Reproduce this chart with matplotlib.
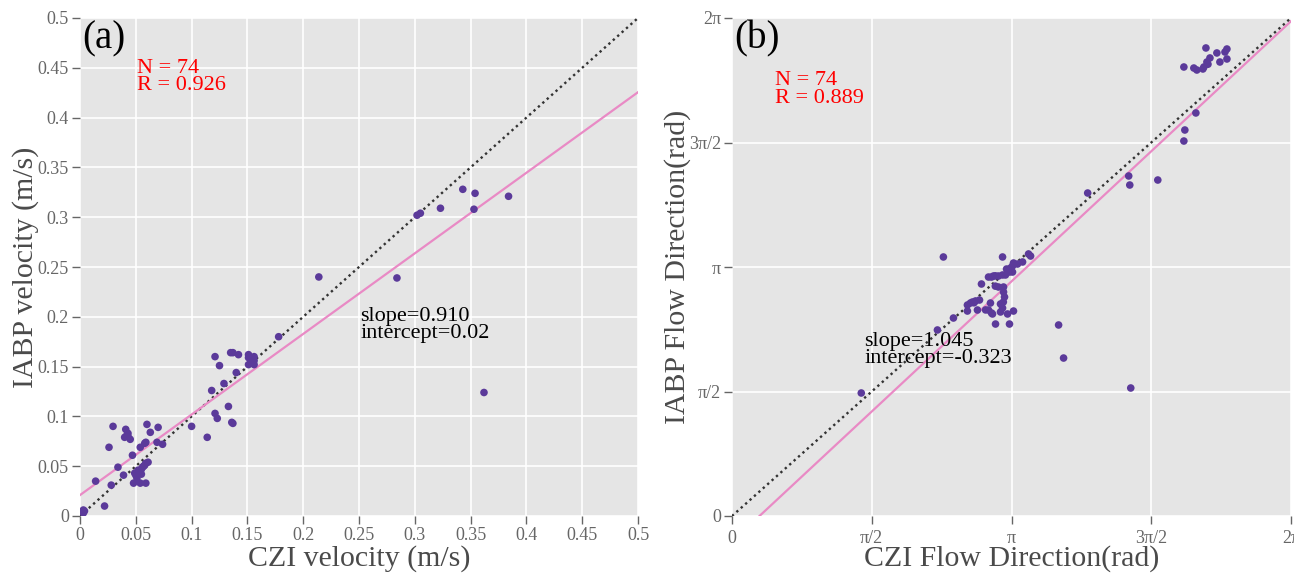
import numpy as np
import matplotlib
matplotlib.use("Agg")
import matplotlib.pyplot as plt

# ---------------- data: panel (a) velocity ----------------
czi_vel = [0.0296, 0.041, 0.043, 0.040, 0.045, 0.042, 0.060, 0.063, 0.070, 0.026,
           0.054, 0.058, 0.059, 0.069, 0.074, 0.047, 0.061, 0.059, 0.056, 0.034,
           0.050, 0.052, 0.054, 0.049, 0.055, 0.039, 0.014, 0.048, 0.054, 0.059,
           0.028, 0.022, 0.004, 0.003,
           0.121, 0.135, 0.137, 0.142, 0.151, 0.151, 0.156, 0.156, 0.151, 0.156,
           0.125, 0.140, 0.129, 0.118, 0.133, 0.121, 0.123, 0.136, 0.137, 0.100,
           0.114,
           0.214, 0.284, 0.302, 0.305, 0.323, 0.343, 0.354, 0.353, 0.384, 0.362,
           0.178,
           0.052, 0.055, 0.051, 0.057, 0.153, 0.043, 0.058, 0.003]
iabp_vel = [0.090, 0.087, 0.083, 0.079, 0.077, 0.081, 0.092, 0.084, 0.089, 0.069,
            0.069, 0.073, 0.074, 0.074, 0.072, 0.061, 0.054, 0.053, 0.049, 0.049,
            0.041, 0.043, 0.045, 0.043, 0.042, 0.041, 0.035, 0.033, 0.033, 0.033,
            0.031, 0.010, 0.005, 0.003,
            0.160, 0.164, 0.164, 0.162, 0.162, 0.159, 0.160, 0.156, 0.152, 0.152,
            0.151, 0.144, 0.133, 0.126, 0.110, 0.103, 0.098, 0.094, 0.093, 0.090,
            0.079,
            0.240, 0.239, 0.302, 0.304, 0.309, 0.328, 0.324, 0.308, 0.321, 0.124,
            0.180,
            0.046, 0.047, 0.038, 0.050, 0.157, 0.080, 0.051, 0.006]
fit_a = (0.809, 0.021)          # drawn line: slope, intercept
label_a = ("N = 74\nR = 0.926", "slope=0.910\nintercept=0.02")

# ---------------- data: panel (b) flow direction (rad) ----------------
czi_dir = [2.376, 3.041, 3.333, 3.356, 3.266, 3.164, 3.209, 3.153, 3.131, 3.086,
           3.119, 3.153, 3.041, 3.074, 2.995, 2.939, 2.883, 2.917, 2.804, 2.995,
           3.052, 3.052, 3.063, 2.782, 2.737, 2.680, 2.703, 2.646, 2.905, 3.018,
           3.041, 2.646, 2.759, 2.883, 2.917, 2.928, 3.018, 3.097, 3.164, 2.489,
           2.962, 3.119, 2.309,
           3.671, 3.727, 1.453, 4.482,
           5.327, 5.450, 5.563, 5.541, 5.563, 5.484, 5.372, 5.338, 5.304, 5.293,
           5.225, 5.191, 5.079, 5.214, 5.090, 5.079, 4.459, 4.471, 4.786, 3.998,
           3.10, 2.96, 2.72, 2.96, 5.35, 3.05, 2.85]
iabp_dir = [3.268, 3.268, 3.306, 3.280, 3.205, 3.192, 3.179, 3.154, 3.129, 3.116,
            3.078, 3.078, 3.041, 3.041, 3.028, 3.028, 3.015, 3.015, 2.927, 2.889,
            2.889, 2.826, 2.763, 2.725, 2.713, 2.687, 2.700, 2.662, 2.687, 2.675,
            2.624, 2.586, 2.599, 2.599, 2.561, 2.549, 2.574, 2.549, 2.586, 2.498,
            2.422, 2.422, 2.347,
            2.410, 1.993, 1.552, 1.615,
            5.905, 5.842, 5.892, 5.854, 5.766, 5.728, 5.779, 5.728, 5.665, 5.640,
            5.627, 5.652, 5.665, 5.085, 4.870, 4.731, 4.290, 4.176, 4.239, 4.075,
            3.10, 2.90, 2.69, 3.03, 5.70, 2.70, 2.60]
fit_b = (1.045, -0.323)
label_b = ("N = 74\nR = 0.889", "slope=1.045\nintercept=-0.323")

vel_ticks = [0, 0.05, 0.1, 0.15, 0.2, 0.25, 0.3, 0.35, 0.4, 0.45, 0.5]
vel_ticklabels = ["0", "0.05", "0.1", "0.15", "0.2", "0.25", "0.3", "0.35", "0.4", "0.45", "0.5"]
dir_ticks = [0, np.pi / 2, np.pi, 3 * np.pi / 2, 2 * np.pi]
dir_ticklabels = ["0", "π/2", "π", "3π/2", "2π"]

# ---------------- style ----------------
plt.rcParams["font.family"] = ["Liberation Serif", "DejaVu Serif"]
BG = "#E5E5E5"
PT = "#5B3A9A"
PINK = "#E98AC5"
TICKC = "#666666"
LABC = "#4A4A4A"

fig = plt.figure(figsize=(12.94, 5.78), dpi=100)
ax1 = fig.add_axes([80 / 1294, 62 / 578, 558 / 1294, 498 / 578])
ax2 = fig.add_axes([732 / 1294, 62 / 578, 559 / 1294, 498 / 578])


def style(ax):
    ax.set_facecolor(BG)
    for s in ax.spines.values():
        s.set_visible(False)
    ax.grid(True, color="white", linewidth=1.2)
    ax.set_axisbelow(True)
    ax.tick_params(direction="out", length=6, width=1, color=TICKC,
                   labelcolor=TICKC, labelsize=13, pad=2)


# panel (a)
style(ax1)
lim_a = (0, 0.5)
ax1.set_xlim(lim_a)
ax1.set_ylim(lim_a)
ax1.plot(lim_a, lim_a, linestyle=(0, (1, 1.5)), color="#333333", linewidth=1.7, zorder=2)
xa = np.array(lim_a)
ax1.plot(xa, fit_a[0] * xa + fit_a[1], color=PINK, linewidth=1.6, zorder=2)
ax1.scatter(czi_vel, iabp_vel, s=30, color=PT, edgecolors="none", zorder=3)
ax1.set_xticks(vel_ticks)
ax1.set_xticklabels(vel_ticklabels)
ax1.set_yticks(vel_ticks)
ax1.set_yticklabels(vel_ticklabels)
ax1.set_xlabel("CZI velocity (m/s)", fontsize=21.5, color=LABC)
ax1.set_ylabel("IABP velocity (m/s)", fontsize=21.5, color=LABC)
ax1.xaxis.set_label_coords(0.5, -0.058)
ax1.yaxis.set_label_coords(-0.074, 0.5)
ax1.text(0.004, 0.996, "(a)", transform=ax1.transAxes, fontsize=28, va="top", ha="left", color="black")
ax1.text(0.102, 0.918, label_a[0], transform=ax1.transAxes, fontsize=16, va="top",
         ha="left", color="red", linespacing=0.9)
ax1.text(0.502, 0.42, label_a[1], transform=ax1.transAxes, fontsize=16, va="top",
         ha="left", color="black", linespacing=0.9)

# panel (b)
style(ax2)
lim_b = (0, 2 * np.pi)
ax2.set_xlim(lim_b)
ax2.set_ylim(lim_b)
ax2.plot(lim_b, lim_b, linestyle=(0, (1, 1.5)), color="#333333", linewidth=1.7, zorder=2)
xb = np.array([-fit_b[1] / fit_b[0], 2 * np.pi])
ax2.plot(xb, fit_b[0] * xb + fit_b[1], color=PINK, linewidth=1.6, zorder=2)
ax2.scatter(czi_dir, iabp_dir, s=30, color=PT, edgecolors="none", zorder=3)
ax2.set_xticks(dir_ticks)
ax2.set_xticklabels(dir_ticklabels)
ax2.set_yticks(dir_ticks)
ax2.set_yticklabels(dir_ticklabels)
ax2.tick_params(axis="x", pad=4)
ax2.set_xlabel("CZI Flow Direction(rad)", fontsize=21.5, color=LABC)
ax2.set_ylabel("IABP Flow Direction(rad)", fontsize=21.5, color=LABC)
ax2.xaxis.set_label_coords(0.5, -0.058)
ax2.yaxis.set_label_coords(-0.074, 0.5)
ax2.text(0.004, 0.996, "(b)", transform=ax2.transAxes, fontsize=28, va="top", ha="left", color="black")
ax2.text(0.077, 0.893, label_b[0], transform=ax2.transAxes, fontsize=16, va="top",
         ha="left", color="red", linespacing=0.9)
ax2.text(0.237, 0.37, label_b[1], transform=ax2.transAxes, fontsize=16, va="top",
         ha="left", color="black", linespacing=0.9)

fig.savefig("out.png", dpi=100, facecolor="white")
